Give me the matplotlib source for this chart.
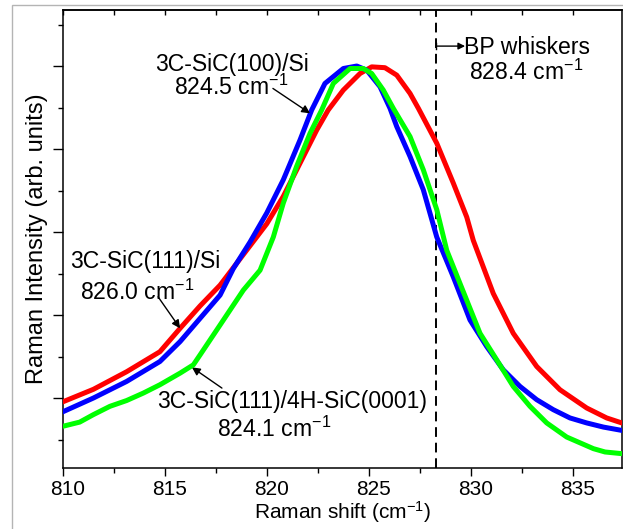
import matplotlib
matplotlib.use("Agg")
import matplotlib.pyplot as plt
from matplotlib.patches import Rectangle
from matplotlib.ticker import MultipleLocator, NullFormatter
from matplotlib.transforms import ScaledTranslation

plt.rcParams['font.family'] = ['Liberation Sans', 'DejaVu Sans']
plt.rcParams['mathtext.default'] = 'regular'

# --- data (Raman shift in cm^-1, intensity in arb. units) ---
red_x = [810.0, 811.49, 813.12, 814.75, 815.74, 816.72, 817.70, 819.00, 819.99, 820.80,
         821.62, 822.44, 823.00, 823.74, 824.56, 825.13, 825.78, 826.36, 827.01, 827.42,
         828.32, 829.13, 829.79, 830.11, 831.09, 832.07, 833.22, 834.36, 835.67, 836.65,
         837.39]
red_y = [0.955, 1.105, 1.317, 1.558, 1.84, 2.11, 2.36, 2.78, 3.10, 3.43,
         3.83, 4.23, 4.47, 4.71, 4.91, 4.99, 4.98, 4.89, 4.67, 4.49,
         4.07, 3.59, 3.18, 2.90, 2.26, 1.78, 1.38, 1.10, 0.88, 0.76,
         0.70]

blue_x = [810.0, 811.49, 813.12, 814.75, 815.74, 816.72, 817.70, 818.35, 819.17, 819.99,
          820.80, 821.62, 822.19, 822.84, 823.74, 824.40, 824.89, 825.54, 826.03, 826.36,
          827.01, 827.66, 828.32, 829.13, 829.95, 830.77, 831.58, 832.40, 833.22, 834.03,
          834.85, 835.67, 836.49, 837.39]
blue_y = [0.835, 1.00, 1.20, 1.44, 1.68, 1.96, 2.24, 2.56, 2.88, 3.23,
          3.63, 4.11, 4.47, 4.79, 4.97, 5.00, 4.95, 4.75, 4.49, 4.27,
          3.91, 3.51, 2.94, 2.46, 1.94, 1.62, 1.34, 1.14, 0.98, 0.86,
          0.76, 0.70, 0.65, 0.61]

green_x = [810.0, 810.82, 811.49, 812.30, 813.12, 813.94, 814.75, 815.74, 816.39, 816.72,
           817.21, 817.70, 818.84, 819.66, 820.31, 820.80, 821.45, 822.11, 822.68, 823.25,
           824.07, 824.72, 825.13, 825.70, 826.19, 827.01, 827.66, 828.32, 828.81, 829.46,
           830.44, 831.26, 832.07, 832.89, 833.71, 834.69, 836.00, 836.57, 837.39]
green_y = [0.66, 0.71, 0.80, 0.90, 0.97, 1.06, 1.16, 1.30, 1.40, 1.52,
           1.70, 1.88, 2.30, 2.54, 2.94, 3.35, 3.79, 4.19, 4.47, 4.79,
           4.97, 4.97, 4.91, 4.71, 4.49, 4.15, 3.75, 3.27, 2.78, 2.38,
           1.78, 1.46, 1.14, 0.90, 0.70, 0.53, 0.39, 0.35, 0.33]

bp_whisker_pos = 828.3
x_ticks = [810, 815, 820, 825, 830, 835]

fig = plt.figure(figsize=(6.23, 5.29), dpi=100)
ax = fig.add_axes([0.1011, 0.1153, 0.8973, 0.8658])

# gray outer frame
fig.add_artist(Rectangle((12 / 623, -0.2), 2.0, 1.2 - 5 / 529, transform=fig.transFigure,
                         fill=False, edgecolor='#b4b4b4', linewidth=1.0))

lw = 3.6
ax.plot(red_x, red_y, color='#ff0000', lw=lw, solid_joinstyle='round', zorder=3)
ax.plot(blue_x, blue_y, color='#0000ff', lw=lw, solid_joinstyle='round', zorder=3)
ax.plot(green_x, green_y, color='#00ff00', lw=lw, solid_joinstyle='round', zorder=4)

ax.axvline(bp_whisker_pos, color='black', lw=1.4, ls=(0, (5, 3)), zorder=2)

ax.set_xlim(810, 837.4)
ax.set_ylim(0.157, 5.675)
ax.set_xticks(x_ticks)
ax.xaxis.set_minor_locator(MultipleLocator(2.5))
ax.yaxis.set_major_locator(MultipleLocator(1))
ax.yaxis.set_minor_locator(MultipleLocator(0.5))
ax.yaxis.set_major_formatter(NullFormatter())

for s in ax.spines.values():
    s.set_linewidth(1.1)

ax.tick_params(axis='x', which='major', direction='out', length=5.8, width=1.0, labelsize=15, pad=2.5)
ax.tick_params(axis='x', which='minor', direction='out', length=3.6, width=1.0)
ax.tick_params(axis='y', which='major', direction='out', length=7.2, width=1.0)
ax.tick_params(axis='y', which='minor', direction='out', length=3.6, width=1.0)
for lab in ax.get_xticklabels():
    lab.set_transform(lab.get_transform() + ScaledTranslation(3 / 72, 0, fig.dpi_scale_trans))

# top ticks (inward)
sec = ax.secondary_xaxis('top')
sec.set_xticks(x_ticks)
sec.xaxis.set_minor_locator(MultipleLocator(2.5))
sec.tick_params(axis='x', which='both', direction='in', length=3.6, width=1.0, labeltop=False)
sec.spines['top'].set_linewidth(1.1)

ax.set_xlabel('Raman shift (cm$^{-1}$)', fontsize=15, labelpad=0.5)
ax.set_ylabel('Raman Intensity (arb. units)', fontsize=17, labelpad=0)

fs = 16.6
arrow_kw = dict(arrowstyle='-|>', color='black', lw=1.0, mutation_scale=12, shrinkA=0, shrinkB=0)
# annotations
ax.text(818.3, 5.02, '3C-SiC(100)/Si', fontsize=fs, ha='center', va='center')
ax.text(818.25, 4.74, '824.5 cm$^{-1}$', fontsize=fs, ha='center', va='center')
ax.annotate('', xy=(822.11, 4.43), xytext=(820.29, 4.73), arrowprops=arrow_kw)

ax.text(814.02, 2.65, '3C-SiC(111)/Si', fontsize=fs, ha='center', va='center')
ax.text(813.63, 2.27, '826.0 cm$^{-1}$', fontsize=fs, ha='center', va='center')
ax.annotate('', xy=(815.74, 1.84), xytext=(814.66, 2.22), arrowprops=arrow_kw)

ax.text(821.25, 0.96, '3C-SiC(111)/4H-SiC(0001)', fontsize=fs, ha='center', va='center')
ax.text(820.34, 0.62, '824.1 cm$^{-1}$', fontsize=fs, ha='center', va='center')
ax.annotate('', xy=(816.32, 1.37), xytext=(817.79, 1.12), arrowprops=arrow_kw)

ax.text(832.75, 5.22, 'BP whiskers', fontsize=fs, ha='center', va='center')
ax.text(832.72, 4.92, '828.4 cm$^{-1}$', fontsize=fs, ha='center', va='center')
ax.annotate('', xy=(829.71, 5.24), xytext=(bp_whisker_pos, 5.24),
            arrowprops=dict(arrowstyle='-|>', color='black', lw=1.0, mutation_scale=10,
                            shrinkA=0, shrinkB=0))
ax.plot([bp_whisker_pos, bp_whisker_pos], [5.20, 5.28], color='black', lw=1.0)

fig.savefig('out.png', dpi=100)
